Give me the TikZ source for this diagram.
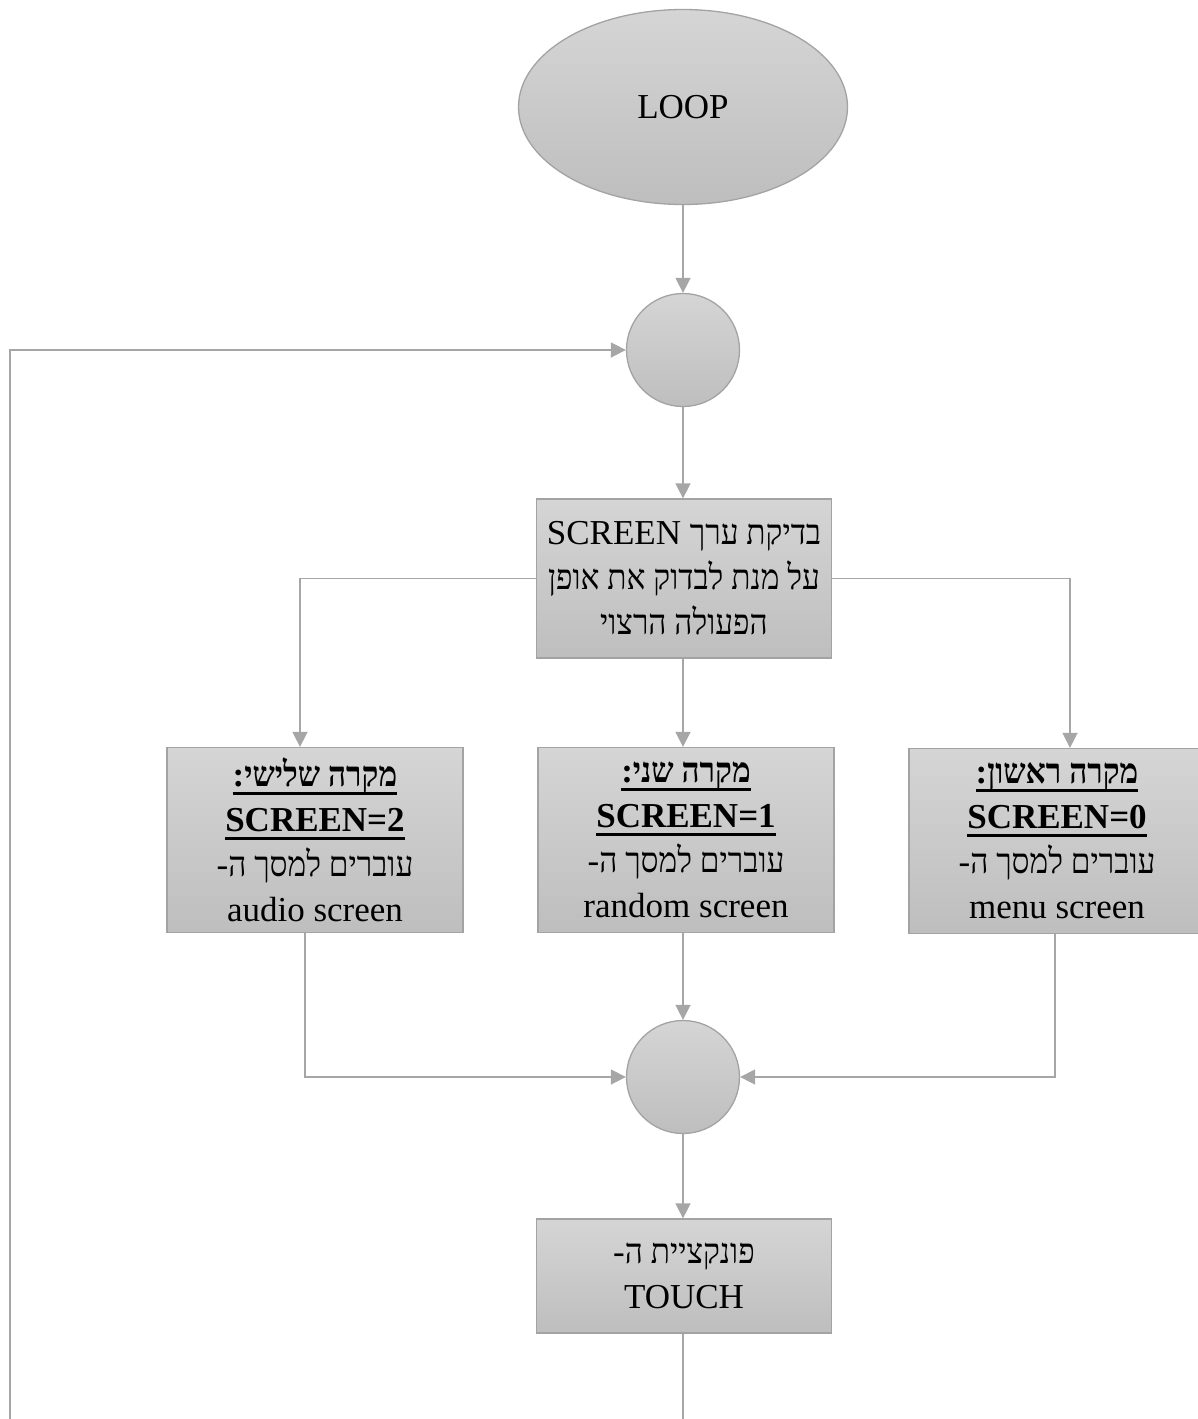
\documentclass[tikz,border=0pt]{standalone}
\usepackage{fontspec}
\setmainfont{Liberation Serif}
\newfontfamily\heb[Script=Hebrew,FakeStretch=0.9]{Liberation Serif}
\TeXXeTstate=1
\usetikzlibrary{arrows.meta,shapes.geometric}

\definecolor{linegray}{HTML}{A6A6A6}
\definecolor{edgegray}{HTML}{A3A3A3}
\definecolor{filltop}{HTML}{D5D5D5}
\definecolor{fillbot}{HTML}{BEBEBE}

% a right-to-left run of Hebrew words
\newcommand\rtl[1]{{\heb\beginR #1\endR}}
% thick underline drawn below the baseline
\newcommand\thickul[1]{\setbox0\hbox{#1}\hbox{\rlap{\vrule height -5pt depth 8pt width \wd0}\box0}}

\begin{document}
\begin{tikzpicture}[x=1pt,y=-1pt,
  shaded/.style={draw=edgegray, line width=1.3pt, top color=filltop, bottom color=fillbot,
    font=\fontsize{35pt}{45pt}\selectfont, align=center, inner sep=0pt},
  ell/.style={shaded, ellipse, minimum width=329, minimum height=195},
  junc/.style={shaded, circle, minimum size=113},
  procbox/.style={shaded, rectangle, minimum width=295},
  casebox/.style={procbox, minimum width=296, minimum height=185},
  arr/.style={draw=linegray, line width=1.6pt, -{Triangle[length=15pt,width=15pt]}},
  plain/.style={draw=linegray, line width=1.6pt}]
\useasboundingbox (0,0) rectangle (1198,1419);

\node[ell] (loop) at (683,107) {LOOP};
\node[junc] (j1) at (683,350) {};
\node[procbox, minimum height=159] (check) at (684,578.5)
  {SCREEN \rtl{בדיקת ערך}\\ \rtl{על מנת לבדוק את אופן}\\ \rtl{הפעולה הרצוי}};

\node[casebox] (case3) at (315,840)
  {\bfseries\thickul{:\rtl{מקרה שלישי}}\\ \bfseries\thickul{SCREEN=2}\\ -\rtl{עוברים למסך ה}\\ audio screen};
\node[casebox] (case2) at (686,840)
  {\bfseries\thickul{:\rtl{מקרה שני}}\\ \bfseries\thickul{SCREEN=1}\\ -\rtl{עוברים למסך ה}\\ random screen};
\node[casebox] (case1) at (1057,841)
  {\bfseries\thickul{:\rtl{מקרה ראשון}}\\ \bfseries\thickul{SCREEN=0}\\ -\rtl{עוברים למסך ה}\\ menu screen};

\node[junc] (j2) at (683,1077) {};
\node[procbox, minimum height=114] (touch) at (684,1276)
  {-\rtl{פונקציית ה}\\ TOUCH};

\coordinate (back) at (10,1460);

% main flow
\draw[arr] (loop.south) -- (j1.north);
\draw[arr] (j1.south) -- (j1.south |- check.north);
\draw[arr] (check.west) -| ([xshift=-15pt]case3.north);
\draw[arr] (check.south -| j1.south) -- (j1.south |- case2.north);
\draw[arr] (check.east) -| ([xshift=13pt]case1.north);
\draw[arr] ([xshift=-10pt]case3.south) |- (j2.west);
\draw[arr] (j2.north |- case2.south) -- (j2.north);
\draw[arr] ([xshift=-2pt]case1.south) |- (j2.east);
\draw[arr] (j2.south) -- (j2.south |- touch.north);
% return path to the top junction
\draw[arr] (j2.south |- touch.south) |- (back) |- (j1.west);
\end{tikzpicture}
\end{document}
